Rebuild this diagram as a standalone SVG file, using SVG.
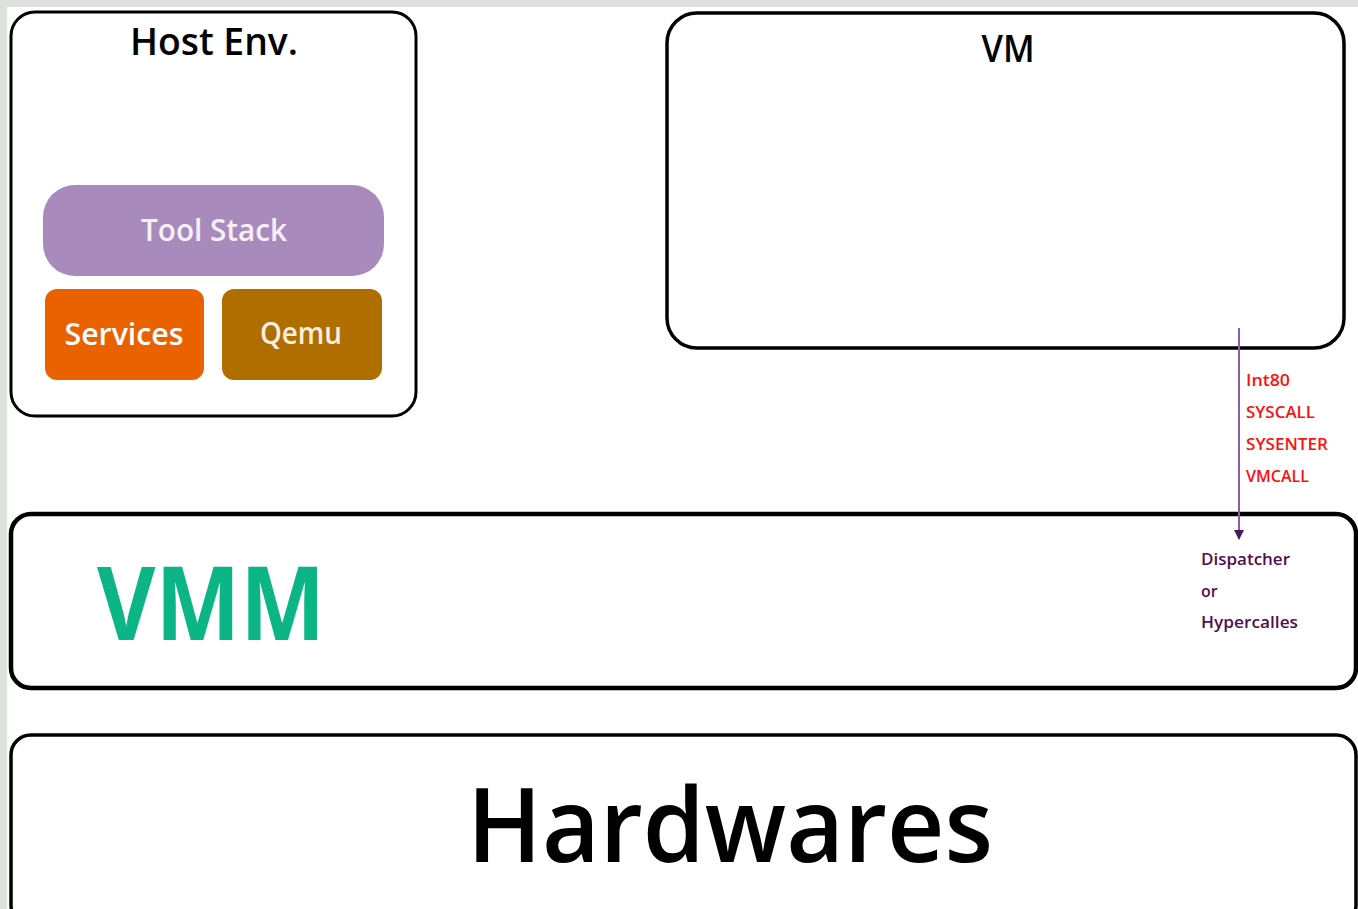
<svg xmlns="http://www.w3.org/2000/svg" width="1358" height="909" viewBox="0 0 1358 909">
  <style>
    .frame { fill: #ffffff; stroke: #000000; }
    .title { font-family: "Open Sans", "Noto Sans", sans-serif; font-weight: 600; fill: #000000; text-anchor: middle; }
    .chip { font-family: "Open Sans", "Noto Sans", sans-serif; font-weight: 600; text-anchor: middle; }
    .trap { font-family: "Open Sans", "Noto Sans", sans-serif; font-weight: 600; font-size: 16px; fill: #ff1010; }
    .disp { font-family: "Open Sans", "Noto Sans", sans-serif; font-weight: 600; font-size: 16px; fill: #4f0f52; }
  </style>
  <defs>
    <marker id="arrowhead" viewBox="0 0 10 10" refX="9" refY="5" markerWidth="10" markerHeight="10" markerUnits="userSpaceOnUse" orient="auto">
      <path d="M0,0 L10,5 L0,10 z" fill="#4a1a5c"/>
    </marker>
  </defs>

  <!-- page -->
  <rect x="0" y="0" width="1358" height="909" fill="#dde2dd"/>
  <rect x="7" y="7" width="1351" height="902" fill="#ffffff"/>

  <!-- host environment -->
  <g id="host-env">
    <rect class="frame" x="11" y="12" width="405" height="404" rx="24" stroke-width="3"/>
    <text class="title" x="214" y="55" font-size="38" textLength="168" lengthAdjust="spacingAndGlyphs">Host Env.</text>
  </g>
  <g id="tool-stack">
    <rect x="43" y="185" width="341" height="91" rx="32" fill="#a98abd"/>
    <text class="chip" x="214" y="241" font-size="31" fill="#f6f0f6" textLength="146" lengthAdjust="spacingAndGlyphs">Tool Stack</text>
  </g>
  <g id="services">
    <rect x="45" y="289" width="159" height="91" rx="12" fill="#ea6200"/>
    <text class="chip" x="124" y="345" font-size="30" fill="#ffffff" textLength="119" lengthAdjust="spacingAndGlyphs">Services</text>
  </g>
  <g id="qemu">
    <rect x="222" y="289" width="160" height="91" rx="12" fill="#b06d00"/>
    <text class="chip" x="301" y="344" font-size="30" fill="#f8efe0" textLength="82" lengthAdjust="spacingAndGlyphs">Qemu</text>
  </g>

  <!-- guest -->
  <g id="vm">
    <rect class="frame" x="667" y="13" width="677" height="335" rx="30" stroke-width="3.5"/>
    <text class="title" x="1008" y="62" font-size="38" textLength="53" lengthAdjust="spacingAndGlyphs">VM</text>
  </g>

  <!-- hypervisor -->
  <g id="vmm">
    <rect class="frame" x="11" y="514" width="1345" height="174" rx="20" stroke-width="4.5"/>
    <text x="97" y="640" font-family="Open Sans, Noto Sans, sans-serif" font-weight="700" font-size="103" fill="#0bb585" textLength="228" lengthAdjust="spacingAndGlyphs">VMM</text>
    <text class="disp" x="1201" y="565" textLength="89" lengthAdjust="spacingAndGlyphs">Dispatcher</text>
    <text class="disp" x="1201" y="597">or</text>
    <text class="disp" x="1201" y="628" textLength="97" lengthAdjust="spacingAndGlyphs">Hypercalles</text>
  </g>

  <!-- hardware layer -->
  <g id="hardwares">
    <rect class="frame" x="11" y="735" width="1345" height="190" rx="20" stroke-width="3.5"/>
    <text class="title" x="730" y="862" font-size="104" textLength="526" lengthAdjust="spacingAndGlyphs">Hardwares</text>
  </g>

  <!-- connectors -->
  <g id="connectors">
    <line x1="1239" y1="328" x2="1239" y2="539" stroke="#8a5ea6" stroke-width="2" marker-end="url(#arrowhead)"/>
    <text class="trap" x="1246" y="386" textLength="44" lengthAdjust="spacingAndGlyphs">Int80</text>
    <text class="trap" x="1246" y="418" textLength="69" lengthAdjust="spacingAndGlyphs">SYSCALL</text>
    <text class="trap" x="1246" y="450" textLength="82" lengthAdjust="spacingAndGlyphs">SYSENTER</text>
    <text class="trap" x="1246" y="482" textLength="63" lengthAdjust="spacingAndGlyphs">VMCALL</text>
  </g>
</svg>
